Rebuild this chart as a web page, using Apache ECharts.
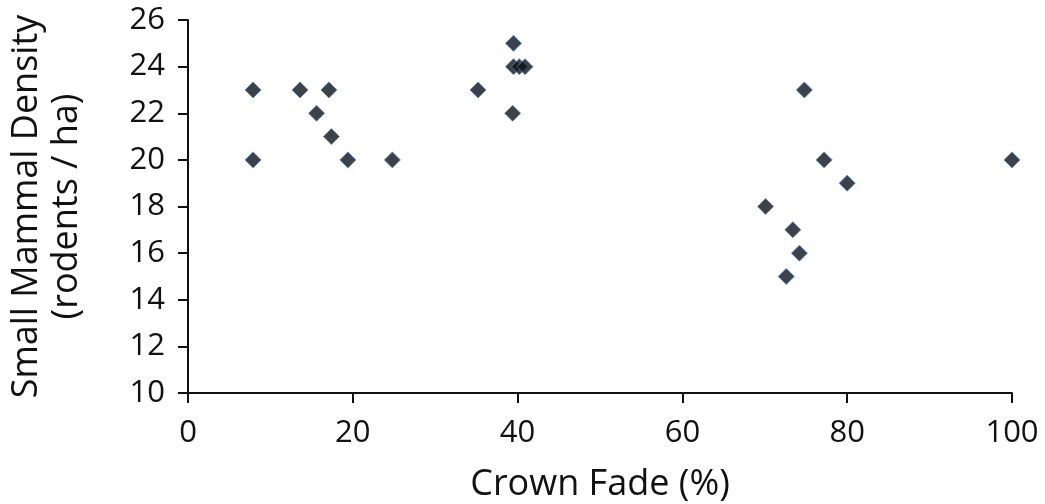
<!DOCTYPE html>
<html>
<head>
<meta charset="utf-8">
<script src="https://cdn.jsdelivr.net/npm/echarts@6/dist/echarts.min.js"></script>
<style>html,body{margin:0;padding:0;background:#fff}#c{width:1045px;height:504px}</style>
</head>
<body>
<div id="c"></div>
<script>
const crownFade = [7.9, 7.9, 13.6, 15.6, 17.1, 17.4, 19.4, 24.8, 35.2, 39.5, 39.5, 40.2, 40.9, 39.4, 70.1, 72.6, 73.4, 74.2, 74.8, 77.2, 80.0, 100];
const density   = [23, 20, 23, 22, 23, 21, 20, 20, 23, 25, 24, 24, 24, 22, 18, 15, 17, 16, 23, 20, 19, 20];
const xTitle = 'Crown Fade (%)';
const yTitle = 'Small Mammal Density\n(rodents / ha)';

const points = crownFade.map((x, i) => [x, density[i]]);
const font = 'Open Sans';
const chart = echarts.init(document.getElementById('c'));
chart.setOption({
  animation: false,
  grid: {left: 188, right: 33, top: 20, bottom: 111, containLabel: false, outerBoundsMode: 'none'},
  xAxis: {
    type: 'value', min: 0, max: 100, interval: 20,
    name: xTitle, nameLocation: 'middle', nameGap: 74,
    nameTextStyle: {fontFamily: font, fontSize: 36, color: '#111'},
    axisLine: {show: true, onZero: false, lineStyle: {color: '#111', width: 2}},
    axisTick: {show: true, inside: false, length: 10, lineStyle: {color: '#111', width: 2}},
    axisLabel: {fontFamily: font, fontSize: 31, color: '#111', margin: 25},
    splitLine: {show: false}
  },
  yAxis: {
    type: 'value', min: 10, max: 26, interval: 2,
    name: yTitle, nameLocation: 'middle', nameGap: 101, nameRotate: 90,
    nameTextStyle: {fontFamily: font, fontSize: 36, color: '#111', lineHeight: 40, align: 'center'},
    axisLine: {show: true, onZero: false, lineStyle: {color: '#111', width: 2}},
    axisTick: {show: true, inside: false, length: 10, lineStyle: {color: '#111', width: 2}},
    axisLabel: {fontFamily: font, fontSize: 31, color: '#111', margin: 23},
    splitLine: {show: false}
  },
  series: [{
    type: 'scatter',
    data: points,
    symbol: 'diamond',
    symbolSize: 16,
    itemStyle: {color: '#0e1219', borderColor: '#4a86c8', borderWidth: 1}
  }]
});
</script>
</body>
</html>
